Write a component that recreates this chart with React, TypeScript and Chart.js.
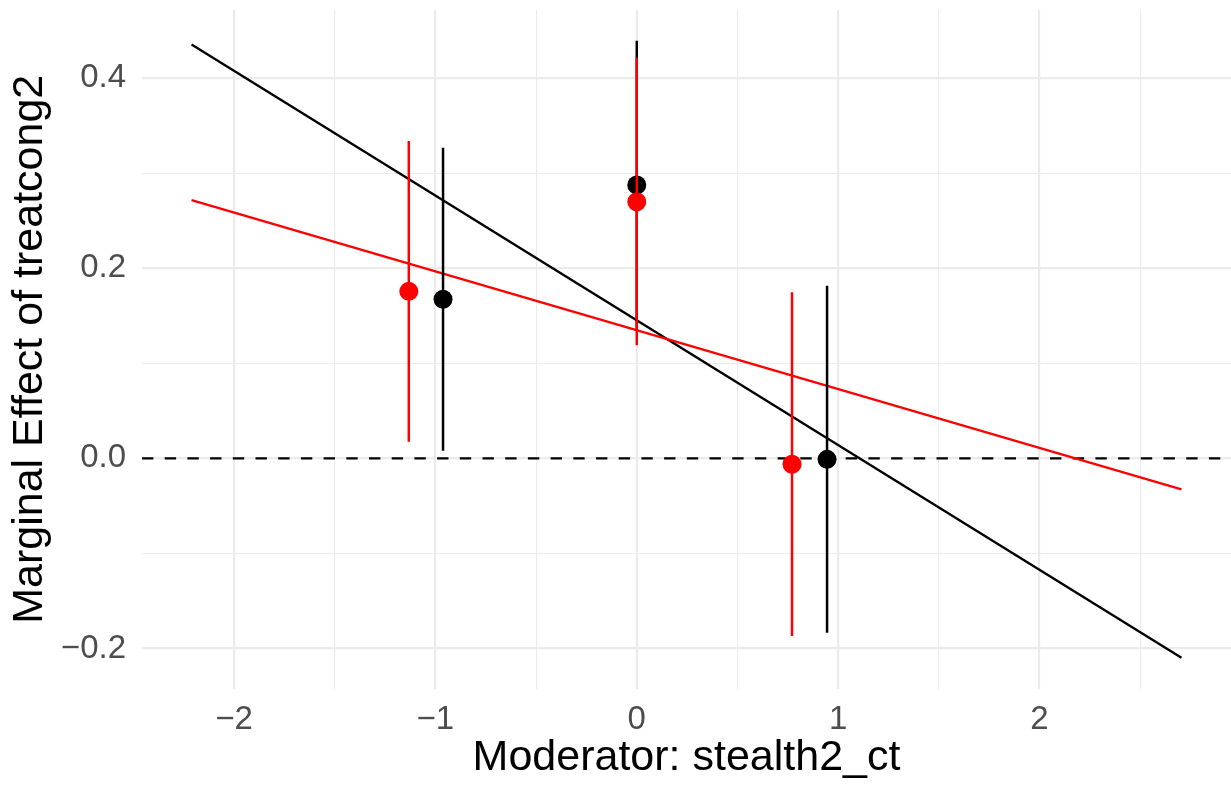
import React, { useEffect, useRef } from "react";
import { Chart, registerables } from "chart.js";

Chart.register(...registerables);

// Fitted linear marginal-effect lines (evaluated at the ends of the moderator range)
const lineX = [-2.211, 2.705];
const blackLineY = [0.4353, -0.2097];
const redLineY = [0.2716, -0.0326];

// Binned estimates with confidence intervals
const blackBinX = [-0.962, 0, 0.945];
const blackBinY = [0.1672, 0.2874, -0.0011];
const blackLower = [0.008, 0.1357, -0.1834];
const blackUpper = [0.3266, 0.4391, 0.1815];

const redBinX = [-1.132, 0, 0.771];
const redBinY = [0.1756, 0.2698, -0.0063];
const redLower = [0.0175, 0.119, -0.1869];
const redUpper = [0.3336, 0.4212, 0.1746];

// Grid positions (integers / even tenths are labelled, the rest are minor lines)
const xTicks = [-2, -1.5, -1, -0.5, 0, 0.5, 1, 1.5, 2, 2.5];
const yTicks = [-0.2, -0.1, 0, 0.1, 0.2, 0.3, 0.4];

const X_MIN = -2.457;
const X_MAX = 2.951;
const Y_MIN = -0.2421;
const Y_MAX = 0.4715;

const FONT = "'Liberation Sans', Arial, Helvetica, sans-serif";
const GRID = "#EBEBEB";

const minus = (s: string) => s.replace("-", "\u2212");
const isMajorX = (v: number) => Math.abs(v - Math.round(v)) < 1e-9;
const isMajorY = (v: number) => Math.round(Math.abs(v) * 10) % 2 === 0;

const pts = (xs: number[], ys: number[]) => xs.map((x, i) => ({ x, y: ys[i] }));
const bars = (xs: number[], lo: number[], hi: number[]) =>
  xs.flatMap((x, i) => [
    { x, y: lo[i] },
    { x, y: hi[i] },
    { x, y: null as unknown as number },
  ]);

export default function App() {
  const ref = useRef<HTMLCanvasElement | null>(null);

  useEffect(() => {
    if (!ref.current) return;
    const chart = new Chart(ref.current, {
      type: "scatter",
      data: {
        datasets: [
          {
            data: pts(redBinX, redBinY),
            backgroundColor: "#FF0000",
            borderWidth: 0,
            pointRadius: 9.5,
            order: 0,
          },
          {
            data: bars(redBinX, redLower, redUpper),
            showLine: true,
            spanGaps: false,
            borderColor: "#FF0000",
            borderWidth: 2.5,
            pointRadius: 0,
            order: 1,
          },
          {
            data: pts(blackBinX, blackBinY),
            backgroundColor: "#000000",
            borderWidth: 0,
            pointRadius: 9.5,
            order: 2,
          },
          {
            data: bars(blackBinX, blackLower, blackUpper),
            showLine: true,
            spanGaps: false,
            borderColor: "#000000",
            borderWidth: 2.5,
            pointRadius: 0,
            order: 3,
          },
          {
            data: pts(lineX, redLineY),
            showLine: true,
            borderColor: "#FF0000",
            borderWidth: 2.4,
            pointRadius: 0,
            order: 4,
          },
          {
            data: pts(lineX, blackLineY),
            showLine: true,
            borderColor: "#000000",
            borderWidth: 2.4,
            pointRadius: 0,
            order: 5,
          },
          {
            data: [
              { x: X_MIN, y: 0 },
              { x: X_MAX, y: 0 },
            ],
            showLine: true,
            borderColor: "#000000",
            borderWidth: 2.3,
            borderDash: [11.4, 11.3],
            pointRadius: 0,
            order: 6,
          },
        ],
      },
      options: {
        animation: false,
        responsive: false,
        devicePixelRatio: 1,
        layout: { autoPadding: false, padding: { top: 10, right: 0, bottom: 0, left: 0 } },
        plugins: {
          legend: { display: false },
          tooltip: { enabled: false },
        },
        scales: {
          x: {
            type: "linear",
            min: X_MIN,
            max: X_MAX,
            afterBuildTicks: (s: any) => {
              s.ticks = xTicks.map((v) => ({ value: v }));
            },
            afterFit: (s: any) => {
              s.height = 97.5;
              s.paddingLeft = 0;
              s.paddingRight = 0;
            },
            border: { display: false },
            grid: {
              color: GRID,
              drawTicks: false,
              lineWidth: (c: any) => (isMajorX(c.tick.value) ? 2.2 : 1.1),
            },
            ticks: {
              autoSkip: false,
              maxRotation: 0,
              padding: 12,
              color: "#4D4D4D",
              font: { family: FONT, size: 33 },
              callback: (v: any) => (isMajorX(Number(v)) ? minus(String(Math.round(Number(v)))) : ""),
            },
            title: {
              display: true,
              text: "Moderator: stealth2_ct",
              color: "#000000",
              font: { family: FONT, size: 43 },
              padding: { top: 0, bottom: 2 },
            },
          },
          y: {
            type: "linear",
            min: Y_MIN,
            max: Y_MAX,
            afterBuildTicks: (s: any) => {
              s.ticks = yTicks.map((v) => ({ value: v }));
            },
            afterFit: (s: any) => {
              s.width = 142;
              s.paddingTop = 0;
              s.paddingBottom = 0;
            },
            border: { display: false },
            grid: {
              color: GRID,
              drawTicks: false,
              lineWidth: (c: any) => (isMajorY(c.tick.value) ? 2.2 : 1.1),
            },
            ticks: {
              autoSkip: false,
              padding: 16,
              color: "#4D4D4D",
              font: { family: FONT, size: 33 },
              callback: (v: any) => (isMajorY(Number(v)) ? minus(Number(v).toFixed(1)) : ""),
            },
            title: {
              display: true,
              text: "Marginal Effect of treatcong2",
              color: "#000000",
              font: { family: FONT, size: 43 },
              padding: { top: 4, bottom: 0 },
            },
          },
        },
      },
    } as any);
    return () => chart.destroy();
  }, []);

  return (
    <div style={{ position: "fixed", left: 0, top: 0, width: 1231, height: 786, background: "#FFFFFF" }}>
      <canvas ref={ref} width={1231} height={786} style={{ display: "block" }} />
    </div>
  );
}
